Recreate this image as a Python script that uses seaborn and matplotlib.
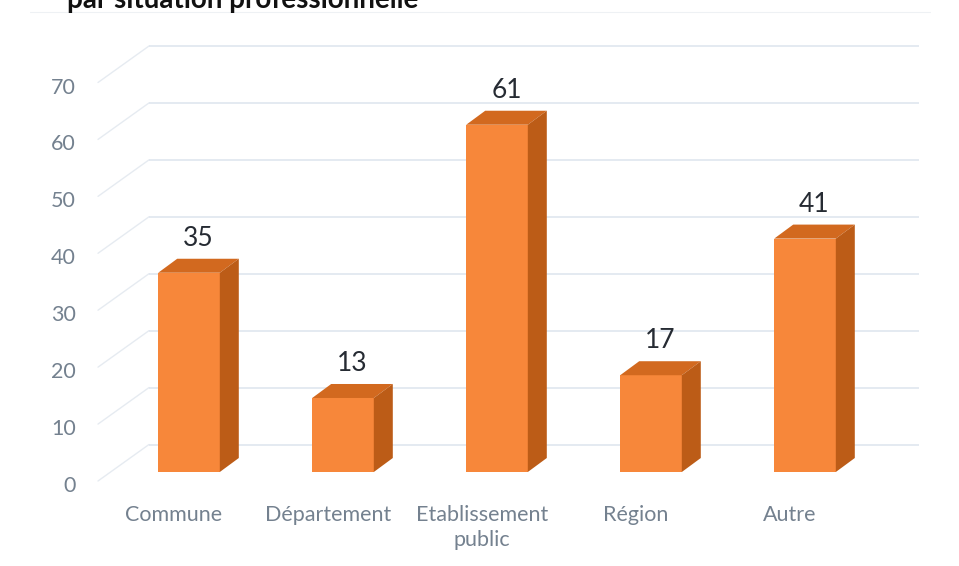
import matplotlib
matplotlib.use("Agg")
import matplotlib.pyplot as plt
import matplotlib.transforms as mtransforms
from matplotlib.patches import Polygon
from matplotlib.lines import Line2D
import seaborn as sns

# données
categories = ["Commune", "Département", "Etablissement\npublic", "Région", "Autre"]
values = [35, 13, 61, 17, 41]
yticks = [0, 10, 20, 30, 40, 50, 60, 70]
title = "par situation professionnelle"

front_col = "#F7873A"
top_col = "#D2691F"
side_col = "#BC5C17"
grid_col = "#DDE4EE"
tick_col = "#74818F"

sns.set_style("white")
plt.rcParams["font.family"] = ["Lato", "DejaVu Sans"]

fig = plt.figure(figsize=(9.59, 5.66), dpi=100)
W, H = 959, 566
ax = fig.add_axes([112 / W, (H - 472) / H, 770 / W, 398.5 / H])

# barres (face avant)
sns.barplot(x=list(range(len(values))), y=values, color=front_col, width=0.4,
            saturation=1, ax=ax, zorder=3)
ax.set_xlim(-0.5, 4.5)
ax.set_ylim(0, 70)
ax.axis("off")

def shifted(dx, dy):
    return mtransforms.offset_copy(ax.transData, fig=fig, x=dx, y=dy, units="dots")

back = shifted(37, 27.5)
label_plane = shifted(-14, -9)

# mur du fond
ax.hlines(yticks, -0.5, 4.5, colors=grid_col, lw=1.1, transform=back, zorder=0,
          clip_on=False)
# mur de gauche (diagonales)
for v in yticks:
    p0 = label_plane.transform((-0.5, v))
    p1 = back.transform((-0.5, v))
    fig.add_artist(Line2D([p0[0], p1[0]], [p0[1], p1[1]], transform=None,
                          color="#E6EBF1", lw=1.0, zorder=0))

# profondeur des barres en pixels -> unités de données
px_x = 770 / 5
px_y = 398.5 / 70
ddx, ddy = 19 / px_x, 14 / px_y

for p, v in zip(ax.patches, values):
    x0, w, h = p.get_x(), p.get_width(), p.get_height()
    p.set_linewidth(0)
    top = Polygon([(x0, h), (x0 + w, h), (x0 + w + ddx, h + ddy), (x0 + ddx, h + ddy)],
                  closed=True, facecolor=top_col, edgecolor="none", zorder=3)
    side = Polygon([(x0 + w, 0), (x0 + w, h), (x0 + w + ddx, h + ddy), (x0 + w + ddx, ddy)],
                   closed=True, facecolor=side_col, edgecolor="none", zorder=3)
    ax.add_patch(top)
    ax.add_patch(side)
    ax.text(x0 + w / 2 + ddx / 2, h + ddy, str(v), ha="center", va="bottom",
            fontsize=19, color="#262B33", transform=shifted(0, 8), zorder=4,
            clip_on=False)

# étiquettes des catégories
for i, c in enumerate(categories):
    ax.text(i, 0, c, ha="center", va="top", fontsize=15.5, color=tick_col,
            linespacing=1.3, transform=shifted(-15, -33), clip_on=False)

# étiquettes de l'axe y
for v in yticks:
    ax.text(-0.5, v, str(v), ha="right", va="center", fontsize=15.5, color=tick_col,
            transform=shifted(-36, -14), clip_on=False)

# titre coupé en haut de l'image
fig.text(67 / W, 1 - 8 / H, title, ha="left", va="baseline", fontsize=20,
         fontweight="bold", color="#111111")
fig.add_artist(Line2D([30 / W, 930 / W], [1 - 12 / H, 1 - 12 / H], color="#EEF1F4", lw=0.8))

fig.savefig("out.png", dpi=100)
